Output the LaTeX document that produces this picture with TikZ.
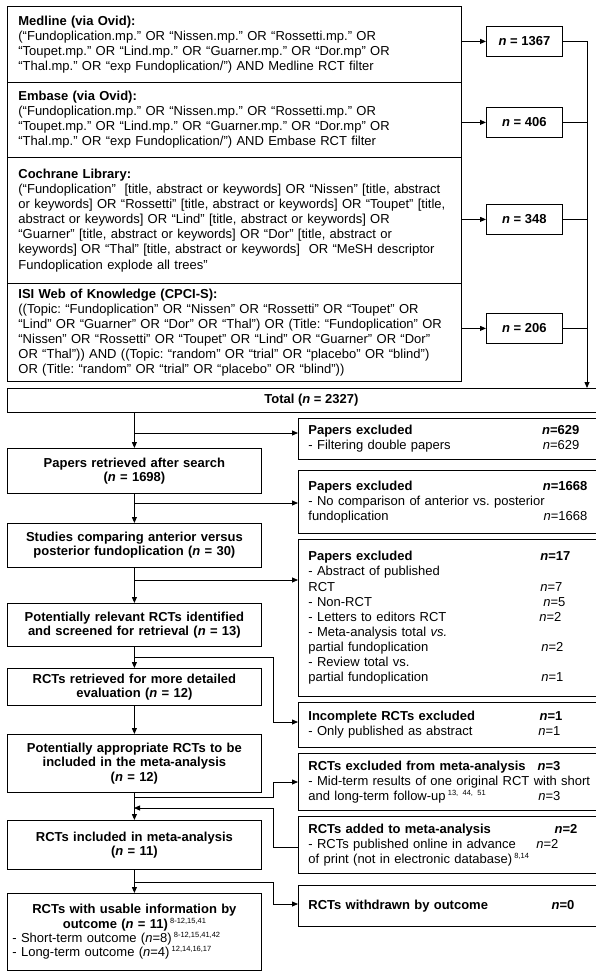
\documentclass[tikz,border=0pt]{standalone}
\usepackage{fontspec}
\setmainfont{Liberation Sans}
\usetikzlibrary{arrows.meta,calc}
\newcommand{\fs}{\fontsize{13}{15.1}\selectfont}
\newcommand{\fsl}{\fontsize{13}{14.4}\selectfont}
\newcommand{\sups}[1]{\raisebox{5pt}{\normalfont\fontsize{7.5}{8}\selectfont #1}}
\newcommand{\rv}[2]{\hfill#2\kern#1pt\null}
\hyphenpenalty=10000
\exhyphenpenalty=10000
\begin{document}
\frenchspacing
\begin{tikzpicture}[x=1pt,y=-1pt,
  lw/.style={line width=0.8pt},
  arr/.style={lw,-{Triangle[length=6pt,width=5pt]}},
  sbox/.style={draw,lw,anchor=north west,minimum width=454pt,text width=432pt,inner xsep=11pt,inner ysep=0pt,align=left,font=\fs},
  nbox/.style={draw,lw,anchor=north west,minimum width=76pt,minimum height=30pt,inner sep=0pt,font=\fs\bfseries},
  lbox/.style={draw,lw,anchor=north west,minimum width=254pt,text width=244pt,inner xsep=5pt,inner ysep=0pt,align=center,font=\fsl\bfseries},
  rbox/.style={draw,lw,anchor=north west,minimum width=316pt,text width=296pt,inner xsep=10pt,inner ysep=0pt,align=left,font=\fs},
]
\useasboundingbox (0,0) rectangle (595,973);

% search boxes
\node[sbox,minimum height=76pt] (med) at (7,6) {\textbf{Medline (via Ovid):}\\
(“Fundoplication.mp.” OR “Nissen.mp.” OR “Rossetti.mp.” OR\\
“Toupet.mp.” OR “Lind.mp.” OR “Guarner.mp.” OR “Dor.mp” OR\\
“Thal.mp.” OR “exp Fundoplication/”) AND Medline RCT filter};
\node[sbox,minimum height=75pt] (emb) at (7,82) {\textbf{Embase (via Ovid):}\\
(“Fundoplication.mp.” OR “Nissen.mp.” OR “Rossetti.mp.” OR\\
“Toupet.mp.” OR “Lind.mp.” OR “Guarner.mp.” OR “Dor.mp” OR\\
“Thal.mp.” OR “exp Fundoplication/”) AND Embase RCT filter};
\node[sbox,minimum height=126pt] (coc) at (7,157) {\textbf{Cochrane Library:}\\
(“Fundoplication”~ [title, abstract or keywords] OR “Nissen” [title, abstract\\
or keywords] OR “Rossetti” [title, abstract or keywords] OR “Toupet” [title,\\
abstract or keywords] OR “Lind” [title, abstract or keywords] OR\\
“Guarner” [title, abstract or keywords] OR “Dor” [title, abstract or\\
keywords] OR “Thal” [title, abstract or keywords]~ OR “MeSH descriptor\\
Fundoplication explode all trees”};
\node[sbox,minimum height=98pt] (isi) at (7,283) {\textbf{ISI Web of Knowledge (CPCI-S):}\\
((Topic: “Fundoplication” OR “Nissen” OR “Rossetti” OR “Toupet” OR\\
“Lind” OR “Guarner” OR “Dor” OR “Thal”) OR (Title: “Fundoplication” OR\\
“Nissen” OR “Rossetti” OR “Toupet” OR “Lind” OR “Guarner” OR “Dor”\\
OR “Thal”)) AND ((Topic: “random” OR “trial” OR “placebo” OR “blind”)\\
OR (Title: “random” OR “trial” OR “placebo” OR “blind”))};

% n boxes
\node[nbox] (n1) at (486,26) {\textit{n} = 1367};
\node[nbox] (n2) at (486,107) {\textit{n} = 406};
\node[nbox] (n3) at (486,204) {\textit{n} = 348};
\node[nbox] (n4) at (486,313) {\textit{n} = 206};

% total
\node[draw,lw,anchor=north west,minimum width=608pt,minimum height=24pt,inner sep=0pt,font=\fs\bfseries] (tot) at (7,388) {Total (\textit{n} = 2327)};

% left column
\node[lbox,minimum height=45pt] (pr) at (7,448) {Papers retrieved after search\\(\textit{n} = 1698)};
\node[lbox,minimum height=44pt] (st) at (7,523) {Studies comparing anterior versus\\posterior fundoplication (\textit{n} = 30)};
\node[lbox,minimum height=43pt] (prel) at (7,603) {Potentially relevant RCTs identified\\and screened for retrieval (\textit{n} = 13)};
\node[lbox,minimum height=37pt] (ret) at (7,668) {RCTs retrieved for more detailed\\evaluation (\textit{n} = 12)};
\node[lbox,minimum height=58pt] (app) at (7,734) {Potentially appropriate RCTs to be\\included in the meta-analysis\\(\textit{n} = 12)};
\node[lbox,minimum height=49pt] (inc) at (7,820) {RCTs included in meta-analysis\\(\textit{n} = 11)};
\node[draw,lw,anchor=north west,minimum width=254pt,text width=244pt,inner xsep=5pt,inner ysep=0pt,minimum height=77pt,font=\fsl] (use) at (7,893)
 {{\centering\bfseries RCTs with usable information by\\ outcome (\textit{n} = 11)\,\sups{8-12,15,41}\par}
  \raggedright - Short-term outcome (\textit{n}=8)\,\sups{8-12,15,41,42}\\
  - Long-term outcome (\textit{n}=4)\,\sups{12,14,16,17}\par};

% right column
\node[rbox,minimum height=41pt] (pe1) at (298,418) {\textbf{Papers excluded}\rv{25}{\textbf{\textit{n}=629}}\\
- Filtering double papers\rv{25}{\textit{n}=629}};
\node[rbox,minimum height=63pt] (pe2) at (298,470) {\textbf{Papers excluded}\rv{17}{\textbf{\textit{n}=1668}}\\
- No comparison of anterior vs. posterior\\
fundoplication\rv{17}{\textit{n}=1668}};
\node[rbox,minimum height=157pt] (pe3) at (298,539) {\textbf{Papers excluded}\rv{34}{\textbf{\textit{n}=17}}\\
- Abstract of published\\
RCT\rv{42}{\textit{n}=7}\\
- Non-RCT\rv{39}{\textit{n}=5}\\
- Letters to editors RCT\rv{43}{\textit{n}=2}\\
- Meta-analysis total \textit{vs.}\\
partial fundoplication\rv{41}{\textit{n}=2}\\
- Review total vs.\\
partial fundoplication\rv{41}{\textit{n}=1}};
\node[rbox,minimum height=45pt] (icm) at (298,702) {\textbf{Incomplete RCTs excluded}\rv{42}{\textbf{\textit{n}=1}}\\
- Only published as abstract\rv{44}{\textit{n}=1}};
\node[rbox,minimum height=57pt] (exm) at (298,753) {\textbf{RCTs excluded from meta-analysis}\rv{44}{\textbf{\textit{n}=3}}\\
- Mid-term results of one original RCT with short\\
and long-term follow-up\,\sups{13, 44, 51}\rv{44}{\textit{n}=3}};
\node[rbox,minimum height=57pt] (add) at (298,816) {\textbf{RCTs added to meta-analysis}\rv{27}{\textbf{\textit{n}=2}}\\
- RCTs published online in advance\rv{46}{\textit{n}=2}\\
of print (not in electronic database)\,\sups{8,14}};
\node[rbox,minimum height=41pt] (wd) at (298,885) {\textbf{RCTs withdrawn by outcome}\rv{30}{\textbf{\textit{n}=0}}};

% search -> n boxes
\foreach \s/\n in {med/n1,emb/n2,coc/n3,isi/n4}{
  \draw[arr] (\n.west -| \s.east) -- (\n.west);
}
\coordinate (bus) at (587,0);
\foreach \n in {n1,n2,n3,n4}{ \draw[lw] (\n.east) -- (\n.east -| bus); }
\draw[arr] (n1.east -| bus) -- (bus |- tot.north);

% main flow
\draw[arr] (pr.north |- tot.south) -- (pr.north);
\draw[arr] (pr.south) -- (st.north);
\draw[arr] (st.south) -- (prel.north);
\draw[arr] (prel.south) -- (ret.north);
\draw[arr] (ret.south) -- (app.north);
\draw[arr] (app.south) -- (inc.north);
\draw[arr] (inc.south) -- (use.north);

% branches
\coordinate (j1) at (134,433);
\draw[arr] (j1) -- (j1 -| pe1.west);
\coordinate (j2) at (134,503);
\draw[arr] (j2) -- (j2 -| pe2.west);
\coordinate (j3) at (134,580);
\draw[arr] (j3) -- (j3 -| pe3.west);
\coordinate (j4) at (134,657);
\coordinate (e4) at (273,722);
\draw[arr] (j4) -| (e4) -- (e4 -| icm.west);
\coordinate (j5) at (134,797);
\coordinate (e5) at (273,782);
\draw[arr] (j5) -| (e5) -- (e5 -| exm.west);
\coordinate (a6) at (273,847);
\coordinate (j6) at (134,808);
\draw[arr] (a6 -| add.west) -- (a6) |- (j6);
\coordinate (j7) at (134,882);
\coordinate (e7) at (273,904);
\draw[arr] (j7) -| (e7) -- (e7 -| wd.west);
\end{tikzpicture}
\end{document}
